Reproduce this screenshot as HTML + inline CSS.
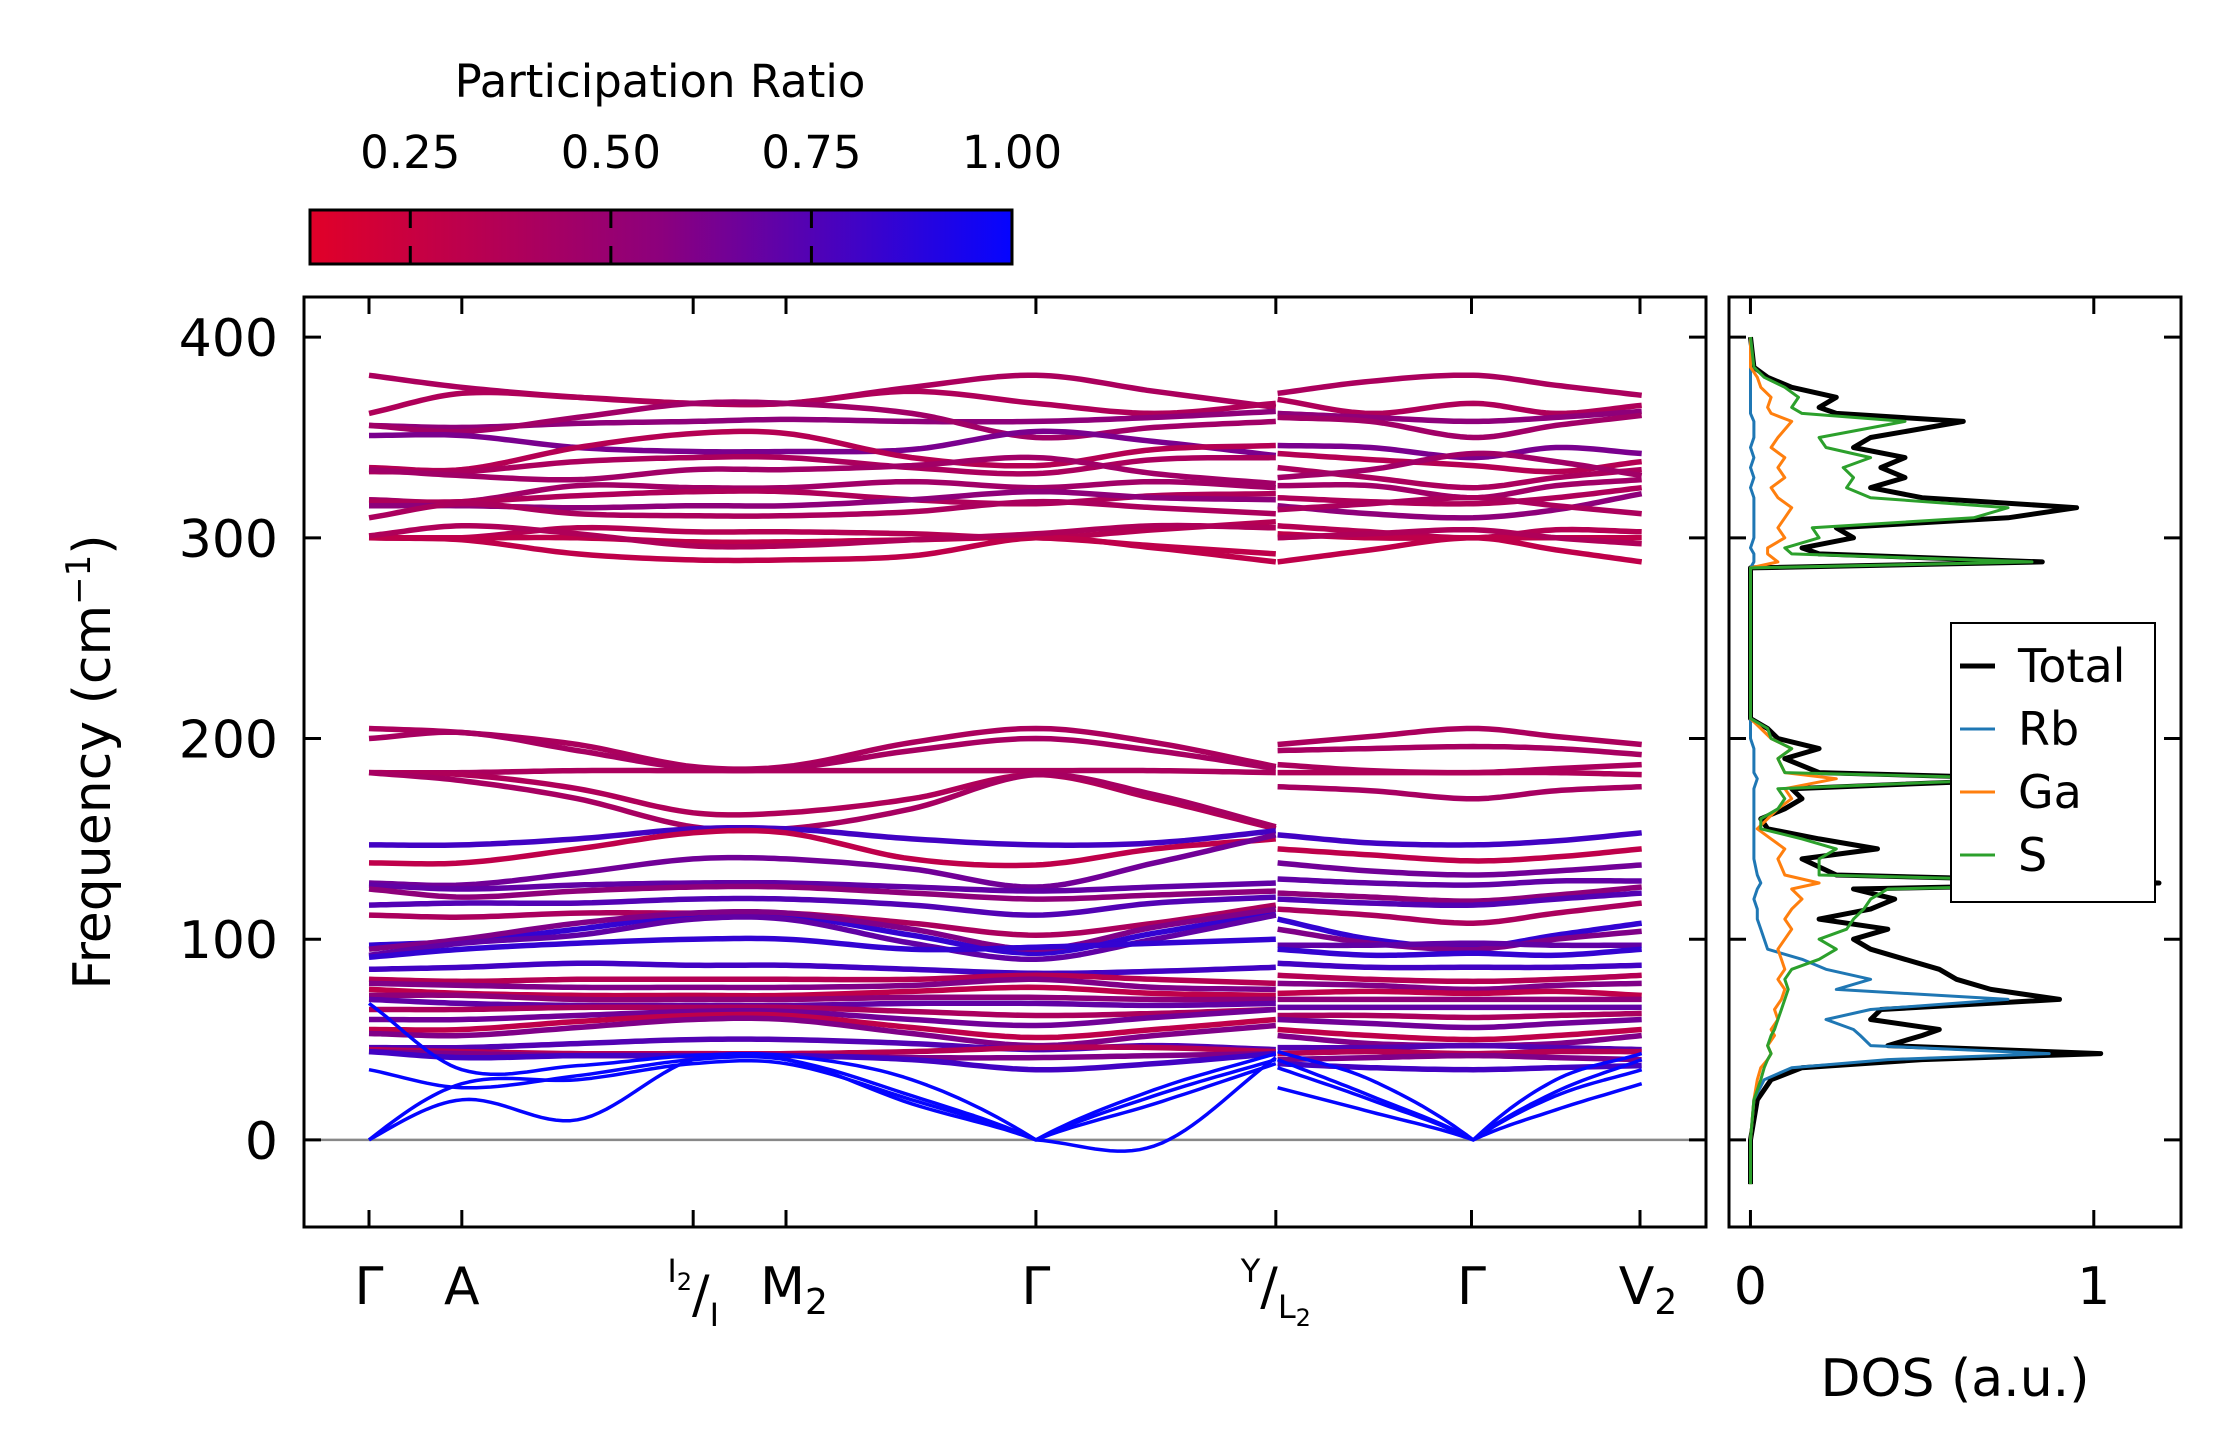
<!DOCTYPE html>
<html><head><meta charset="utf-8">
<style>
html,body{margin:0;padding:0;background:#fff;}
svg{display:block;font-family:"DejaVu Sans","Liberation Sans",sans-serif;}
</style></head>
<body>
<svg id="chart" width="2222" height="1455" viewBox="0 0 2222 1455" xmlns="http://www.w3.org/2000/svg">
<defs>
<linearGradient id="cbgrad" x1="0" x2="1" y1="0" y2="0">
<stop offset="0" stop-color="rgb(225,0,40)"/>
<stop offset="0.5" stop-color="rgb(140,0,125)"/>
<stop offset="1" stop-color="rgb(5,5,255)"/>
</linearGradient>
<clipPath id="mainclip"><rect x="304" y="297" width="1402" height="930"/></clipPath>
<clipPath id="dosclip"><rect x="1729" y="297" width="452" height="930"/></clipPath>
</defs>
<g id="colorbar">
<text x="660" y="97" font-size="45" text-anchor="middle">Participation Ratio</text>
<rect x="310" y="210" width="702" height="54" fill="url(#cbgrad)" stroke="#000" stroke-width="3"/>
</g>
<g id="main"></g>
<g id="dos"></g>
<g id="labels">
<text transform="translate(110,762) rotate(-90)" font-size="52" text-anchor="middle">Frequency (cm<tspan font-size="34" dy="-20">−1</tspan><tspan dy="20">)</tspan></text>
<text x="1955" y="1396" font-size="52" text-anchor="middle">DOS (a.u.)</text>
</g>
<g id="legend">
<rect x="1951" y="623" width="204" height="279" fill="#fff" stroke="#000" stroke-width="2"/>
</g>
</svg>
<script>
const cbTicks = [0.25, 0.50, 0.75, 1.00];
const cbTickLabels = ["0.25", "0.50", "0.75", "1.00"];
const cbRange = [0.125, 1.0];
const yTicks = [0, 100, 200, 300, 400];
const yRange = [-43.4, 420];
const kLabelDist = [0, 0.65, 2.27, 2.92, 4.67, 6.35, 7.72, 8.90];
const kLabels = ["Γ", "A", "I2/I", "M2", "Γ", "Y/L2", "Γ", "V2"];
const kMax = 8.90;
const leftNodes = [0, 0.65, 1.46, 2.27, 2.92, 3.8, 4.67, 5.5, 6.35];
const rightNodes = [6.35, 7.0, 7.72, 8.3, 8.90];
const bands = [
[381,375,370,367,367,375,381,373,365, 372,378,381,376,371],
[362,372,370,367,367,373,367,362,367, 369,362,367,362,366],
[356,355,357,358,359,358,358,360,363, 362,360,358,360,363],
[356,353,360,367,367,362,350,355,358, 360,358,350,356,361],
[351,351,345,343,343,344,353,348,341, 346,345,340,345,342],
[335,334,345,352,352,340,336,344,346, 342,339,336,333,338],
[333,333,338,340,340,335,332,339,340, 335,330,325,330,334],
[334,331,329,334,334,336,340,332,327, 330,334,342,338,331],
[319,318,326,325,325,328,325,328,325, 326,326,320,326,329],
[318,318,321,323,323,319,317,321,322, 320,318,317,320,325],
[316,316,315,316,316,319,323,320,319, 316,312,310,314,322],
[310,317,312,311,311,313,318,315,312, 314,317,320,316,312],
[300,300,305,303,303,302,300,304,308, 306,303,300,304,303],
[300,300,300,298,298,299,300,296,292, 302,300,300,300,300],
[300,299,292,289,289,291,300,295,288, 288,294,300,294,288],
[301,306,302,296,296,299,302,306,305, 300,302,304,300,297],
[205,203,197,186,186,198,205,198,186, 197,201,205,201,197],
[200,203,194,185,185,194,200,194,185, 194,195,196,195,192],
[183,183,184,184,184,184,184,184,183, 187,184,183,185,187],
[183,182,175,163,163,170,182,170,155, 183,183,183,183,182],
[183,179,170,156,155,165,182,172,156, 176,174,170,174,176],
[147,147,150,155,155,150,147,148,154, 152,148,147,149,153],
[138,138,145,153,153,140,137,145,150, 145,142,139,141,145],
[128,127,133,140,140,135,126,138,152, 138,134,132,134,137],
[127,125,127,128,128,126,124,126,128, 130,128,127,129,129],
[125,121,124,126,126,123,120,122,124, 123,121,119,122,126],
[117,118,118,120,120,117,112,118,121, 120,118,117,120,123],
[112,111,113,113,113,108,102,108,117, 115,112,108,113,118],
[97,99,105,112,112,102,93,103,113, 110,100,96,102,108],
[95,100,108,113,113,105,95,106,115, 105,98,95,100,104],
[92,98,102,110,110,98,90,100,112, 97,97,98,97,97],
[91,95,98,100,100,95,96,98,100, 95,92,93,92,95],
[85,86,88,87,87,85,83,84,86, 88,86,86,86,87],
[80,79,80,80,80,80,82,80,78, 82,80,79,80,82],
[78,77,76,76,76,77,80,76,75, 78,77,75,77,78],
[75,73,72,72,72,74,76,73,72, 73,74,73,74,72],
[72,72,70,70,70,71,71,70,70, 70,70,70,70,70],
[70,68,67,67,67,68,68,67,68, 66,66,66,66,66],
[65,65,66,66,66,64,62,63,65, 62,62,61,62,63],
[60,60,62,64,64,60,57,61,65, 60,58,56,58,60],
[55,55,59,62,62,56,51,55,60, 55,52,50,52,55],
[53,52,56,60,60,53,47,52,57, 52,48,47,48,52],
[46,46,48,50,50,48,45,47,45, 46,46,47,46,45],
[45,44,43,43,43,44,46,46,44, 43,44,43,44,44],
[44,43,42,42,42,41,41,42,43, 40,41,42,41,40],
[44,41,42,42,42,40,35,38,43, 38,36,35,36,37],
[68,35,37,42,42,30,0,25,43, 26,14,0,15,28],
[35,26,32,40,40,22,0,-3,41, 36,20,0,22,35],
[0,28,30,38,38,20,0,18,38, 40,22,0,24,40],
[0,20,10,40,40,18,0,22,40, 44,30,0,30,43]
];
const bandPR = [0.40,0.38,0.55,0.45,0.62,0.35,0.40,0.45,0.45,0.38,0.55,0.40,0.35,0.30,0.30,0.38,
0.40,0.42,0.40,0.38,0.42,0.80,0.30,0.65,0.70,0.55,0.75,0.40,0.85,0.60,0.70,0.85,
0.80,0.35,0.60,0.30,0.55,0.70,0.40,0.65,0.30,0.60,0.75,0.35,0.60,0.80,
1.0,1.0,1.0,1.0];
const dosFreq =  [-22,0,20,30,36,40,43,47,52,55,60,65,70,75,80,85,90,95,100,105,110,115,120,125,128,132,140,145,150,155,160,165,170,175,180,183,190,195,200,205,210,285,288,292,295,300,305,310,315,320,325,330,335,340,345,350,358,362,365,370,375,380,385,400];
const dosTotal = [0,0,0.02,0.06,0.15,0.5,1.02,0.4,0.5,0.55,0.35,0.38,0.9,0.7,0.6,0.55,0.45,0.35,0.3,0.4,0.2,0.35,0.42,0.3,1.19,0.25,0.15,0.37,0.2,0.05,0.03,0.1,0.15,0.12,0.85,0.2,0.1,0.2,0.08,0.05,0,0,0.85,0.2,0.15,0.3,0.25,0.75,0.95,0.5,0.35,0.45,0.38,0.45,0.3,0.35,0.62,0.25,0.2,0.25,0.12,0.05,0.01,0];
const dosRb =    [0,0,0.01,0.04,0.12,0.4,0.87,0.35,0.32,0.3,0.22,0.35,0.75,0.25,0.35,0.22,0.15,0.05,0.04,0.03,0.02,0.02,0.01,0.02,0.03,0.02,0.01,0.01,0.01,0.01,0.01,0.01,0.01,0.01,0.02,0.01,0.01,0.01,0.0,0,0,0,0.01,0.01,0,0.01,0.01,0.01,0.01,0.01,0,0.01,0,0.01,0,0.01,0.01,0,0,0,0,0,0,0];
const dosGa =    [0,0,0.01,0.02,0.03,0.05,0.06,0.05,0.07,0.06,0.08,0.07,0.09,0.1,0.08,0.1,0.09,0.08,0.1,0.12,0.1,0.12,0.15,0.12,0.2,0.1,0.08,0.1,0.06,0.02,0.05,0.08,0.12,0.1,0.25,0.1,0.08,0.12,0.06,0.03,0,0,0.08,0.05,0.05,0.1,0.08,0.1,0.12,0.08,0.06,0.1,0.08,0.1,0.06,0.08,0.12,0.06,0.05,0.06,0.03,0.02,0,0];
const dosS =     [0,0,0.01,0.03,0.04,0.05,0.06,0.05,0.06,0.07,0.08,0.09,0.1,0.11,0.1,0.12,0.2,0.25,0.2,0.28,0.3,0.33,0.35,0.4,1.15,0.2,0.2,0.25,0.15,0.03,0.03,0.08,0.1,0.08,0.8,0.1,0.08,0.12,0.06,0.05,0,0,0.82,0.12,0.1,0.2,0.18,0.65,0.75,0.35,0.28,0.3,0.27,0.35,0.22,0.2,0.45,0.15,0.12,0.14,0.1,0.04,0.01,0];
const dosXTicks = [0, 1];
const dosXRange = [-0.0625, 1.254];
const legendNames = ["Total", "Rb", "Ga", "S"];
const legendColors = ["#000000", "#1f77b4", "#ff7f0e", "#2ca02c"];

const NS = "http://www.w3.org/2000/svg";
function mk(tag, attrs, parent){const e=document.createElementNS(NS,tag);for(const k in attrs)e.setAttribute(k,attrs[k]);parent.appendChild(e);return e;}
const MX0=304, MX1=1706, MY0=297, MY1=1227;
const DX0=1729, DX1=2181;
const kx = d => 369 + d*(1640-369)/kMax;
const fy = f => MY1 - (f - yRange[0])/(yRange[1]-yRange[0])*(MY1-MY0);
const dx = v => DX0 + (v - dosXRange[0])/(dosXRange[1]-dosXRange[0])*(DX1-DX0);
const cbx = v => 310 + (v - cbRange[0])/(cbRange[1]-cbRange[0])*702;
function prColor(p){
  const t=(p-cbRange[0])/(cbRange[1]-cbRange[0]);
  let r,g,b;
  if(t<0.5){const u=t/0.5;r=225+(140-225)*u;g=0;b=40+(125-40)*u;}
  else{const u=(t-0.5)/0.5;r=140+(5-140)*u;g=5*u;b=125+(255-125)*u;}
  return `rgb(${r|0},${g|0},${b|0})`;
}
function spline(xs, ys){
  const n=xs.length, mL=[], mR=[];
  for(let i=0;i<n;i++){
    let m;
    if(i===0) m=(ys[1]-ys[0])/(xs[1]-xs[0]);
    else if(i===n-1) m=(ys[n-1]-ys[n-2])/(xs[n-1]-xs[n-2]);
    else m=(ys[i+1]-ys[i-1])/(xs[i+1]-xs[i-1]);
    mL.push(m); mR.push(m);
    if(ys[i]===0){
      if(i>0) mL[i]=(ys[i]-ys[i-1])/(xs[i]-xs[i-1])*1.3;
      if(i<n-1) mR[i]=(ys[i+1]-ys[i])/(xs[i+1]-xs[i])*1.3;
    }
  }
  let d="";
  for(let i=0;i<n-1;i++){
    const h=xs[i+1]-xs[i];
    for(let s=0;s<=16;s++){
      if(i>0&&s===0)continue;
      const t=s/16,t2=t*t,t3=t2*t;
      const v=(2*t3-3*t2+1)*ys[i]+(t3-2*t2+t)*h*mR[i]+(-2*t3+3*t2)*ys[i+1]+(t3-t2)*h*mL[i+1];
      d+=(d?"L":"M")+kx(xs[i]+t*h).toFixed(1)+" "+fy(v).toFixed(1);
    }
  }
  return d;
}

const cb=document.getElementById("colorbar");
cbTicks.forEach((v,i)=>{
  const x=cbx(v);
  if(v<cbRange[1]){
    const t1=mk("line",{x1:x,x2:x,y1:210,y2:228,stroke:"#000","stroke-width":3},cb);
    
    
    const t2=mk("line",{x1:x,x2:x,y1:246,y2:264,stroke:"#000","stroke-width":3},cb);
    
    
  }
  const tl=mk("text",{x:x,y:168,"font-size":45,"text-anchor":"middle"},cb);
  tl.textContent=cbTickLabels[i];
  
  
});

const main=document.getElementById("main");
const zl=mk("line",{x1:MX0,x2:MX1,y1:fy(0),y2:fy(0),stroke:"#888","stroke-width":2.5},main);


const bg=mk("g",{"clip-path":"url(#mainclip)"},main);


bands.forEach((b,i)=>{
  const col=prColor(bandPR[i]);
  const w = bandPR[i]>0.95?3.5:5.5;
  const p1=mk("path",{d:spline(leftNodes,b.slice(0,9)),fill:"none",stroke:col,"stroke-width":w,"stroke-linejoin":"round"},bg);
  
  
  const p2=mk("path",{d:spline(rightNodes.map(v=>v+0.012),b.slice(9)),fill:"none",stroke:col,"stroke-width":w,"stroke-linejoin":"round"},bg);
  
  
});
const fr=mk("rect",{x:MX0,y:MY0,width:MX1-MX0,height:MY1-MY0,fill:"none",stroke:"#000","stroke-width":3},main);


yTicks.forEach(v=>{
  const y=fy(v);
  const a=mk("line",{x1:MX0,x2:MX0+17,y1:y,y2:y,stroke:"#000","stroke-width":3},main);
  
  
  const b=mk("line",{x1:MX1-17,x2:MX1,y1:y,y2:y,stroke:"#000","stroke-width":3},main);
  
  
  const t=mk("text",{x:278,y:y+19,"font-size":52,"text-anchor":"end"},main);
  t.textContent=String(v);
  
  
});
kLabelDist.forEach((d,i)=>{
  const x=kx(d);
  const a=mk("line",{x1:x,x2:x,y1:MY1-17,y2:MY1,stroke:"#000","stroke-width":3},main);
  
  
  const b=mk("line",{x1:x,x2:x,y1:MY0,y2:MY0+17,stroke:"#000","stroke-width":3},main);
  
  
  const lab=kLabels[i];
  const t=mk("text",{x:x,y:1304,"font-size":52,"text-anchor":"middle"},main);
  
  
  if(lab.indexOf("/")>=0){
    const [top,bot]=lab.split("/");
    const s1=mk("tspan",{"font-size":32,dy:-22},t); s1.textContent=top.replace("2","");
    if(top.indexOf("2")>=0){const s=mk("tspan",{"font-size":24,dy:8},t);s.textContent="2";mk("tspan",{dy:-8,"font-size":1},t).textContent="";}
    const s2=mk("tspan",{"font-size":52,dy:22},t); s2.textContent="/";
    const s3=mk("tspan",{"font-size":32,dy:14},t); s3.textContent=bot.replace("2","");
    if(bot.indexOf("2")>=0){const s=mk("tspan",{"font-size":24,dy:8},t);s.textContent="2";}
  } else if(lab.endsWith("2")){
    t.textContent=lab.slice(0,-1);
    const s=mk("tspan",{"font-size":36,dy:10},t); s.textContent="2";
    t.setAttribute("x",x+8);
  } else t.textContent=lab;
});

const dos=document.getElementById("dos");
const dg=mk("g",{"clip-path":"url(#dosclip)"},dos);
function dosPath(vals,col,w,name){
  let d="";
  dosFreq.forEach((f,i)=>{d+=(i?"L":"M")+dx(vals[i]).toFixed(1)+" "+fy(f).toFixed(1);});
  const p=mk("path",{d:d,fill:"none",stroke:col,"stroke-width":w,"stroke-linejoin":"round"},dg);
  
  
}
dosPath(dosTotal,legendColors[0],5,'dos-total-line');
dosPath(dosRb,legendColors[1],3,'dos-rb-line');
dosPath(dosGa,legendColors[2],3,'dos-ga-line');
dosPath(dosS,legendColors[3],3,'dos-s-line');
const df=mk("rect",{x:DX0,y:MY0,width:DX1-DX0,height:MY1-MY0,fill:"none",stroke:"#000","stroke-width":3},dos);


yTicks.forEach(v=>{
  const y=fy(v);
  const a=mk("line",{x1:DX0,x2:DX0+17,y1:y,y2:y,stroke:"#000","stroke-width":3},dos);
  
  
  const b=mk("line",{x1:DX1-17,x2:DX1,y1:y,y2:y,stroke:"#000","stroke-width":3},dos);
  
  
});
dosXTicks.forEach(v=>{
  const x=dx(v);
  const a=mk("line",{x1:x,x2:x,y1:MY1-17,y2:MY1,stroke:"#000","stroke-width":3},dos);
  
  
  const b=mk("line",{x1:x,x2:x,y1:MY0,y2:MY0+17,stroke:"#000","stroke-width":3},dos);
  
  
  const t=mk("text",{x:x,y:1304,"font-size":52,"text-anchor":"middle"},dos);
  t.textContent=String(v);
  
  
});

const lg=document.getElementById("legend");
legendNames.forEach((n,i)=>{
  const y=666+i*63;
  const l=mk("line",{x1:1960,x2:1995,y1:y,y2:y,stroke:legendColors[i],"stroke-width":i===0?5:3},lg);
  
  
  const t=mk("text",{x:2018,y:y+16,"font-size":46},lg);
  t.textContent=n;
  
  
});
</script>
</body></html>
